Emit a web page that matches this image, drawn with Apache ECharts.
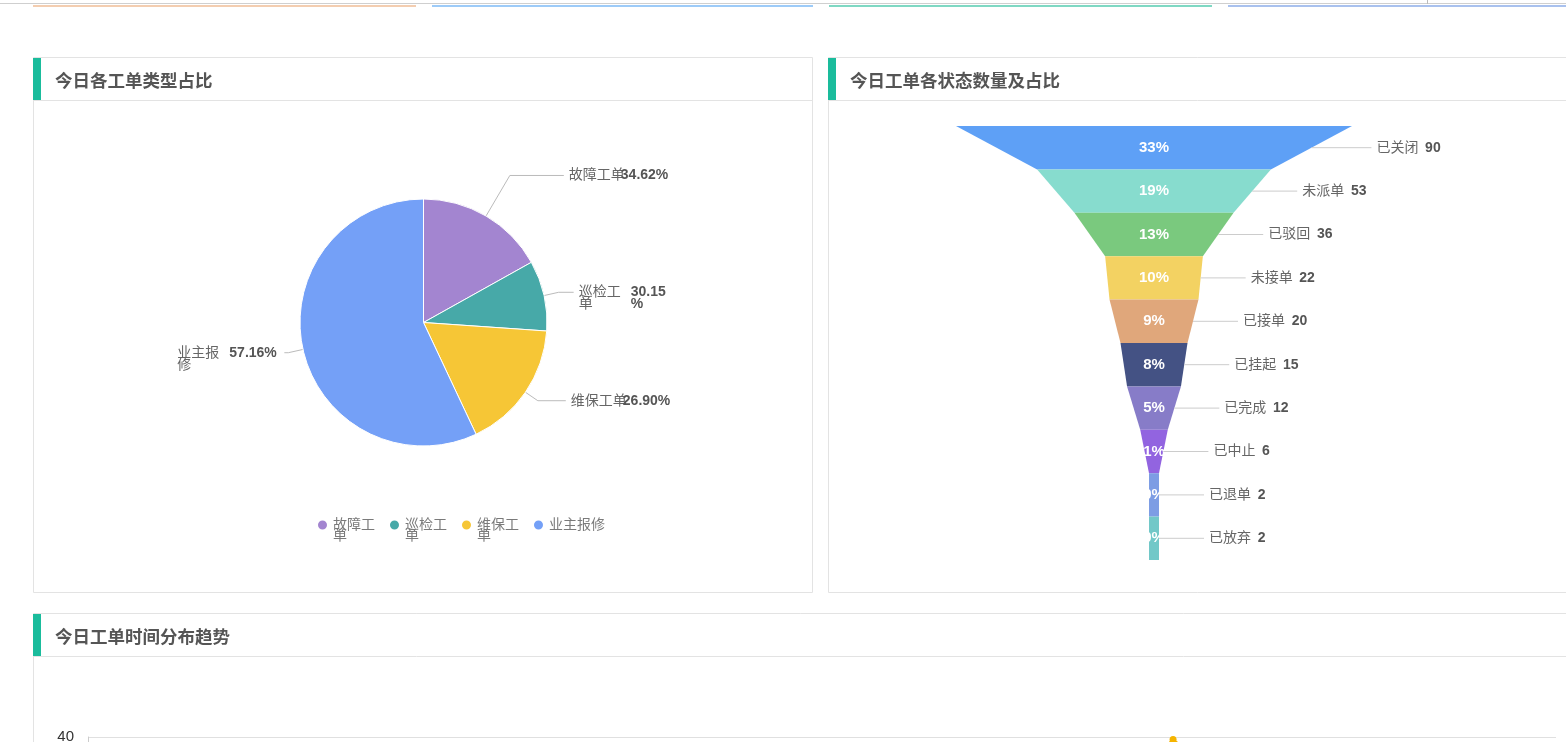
<!DOCTYPE html>
<html><head><meta charset="utf-8">
<script src="https://cdn.jsdelivr.net/npm/echarts@6/dist/echarts.min.js"></script>
<style>html,body{margin:0;padding:0;background:#fff;overflow:hidden}#c{width:1566px;height:742px}</style>
</head><body><div id="c"></div>
<script>
// ---- data ----
const typeNames = ['故障工单', '巡检工单', '维保工单', '业主报修'];
const typeShares = [16.9, 9.2, 16.9, 57.0];
const pieLabelNameLines = [['故障工单'], ['巡检工', '单'], ['维保工单'], ['业主报', '修']];
const pieLabelPctLines = [['34.62%'], ['30.15', '%'], ['26.90%'], ['57.16%']];
const legendLines = [['故障工', '单'], ['巡检工', '单'], ['维保工', '单'], ['业主报修']];

const statusNames = ['已关闭', '未派单', '已驳回', '未接单', '已接单', '已挂起', '已完成', '已中止', '已退单', '已放弃'];
const statusCounts = [90, 53, 36, 22, 20, 15, 12, 6, 2, 2];
const statusPercents = ['33%', '19%', '13%', '10%', '9%', '8%', '5%', '1%', '0%', '0%'];

const hourLabels = ['00:00','01:00','02:00','03:00','04:00','05:00','06:00','07:00','08:00','09:00','10:00','11:00',
  '12:00','13:00','14:00','15:00','16:00','17:00','18:00','19:00','20:00','21:00','22:00','23:00'];
const hourCounts = [2, 1, 0, 0, 1, 3, 6, 12, 18, 22, 25, 20, 15, 17, 21, 24, 28, 39.5, 30, 20, 12, 8, 5, 3];
const panelTitles = ['今日各工单类型占比', '今日工单各状态数量及占比', '今日工单时间分布趋势'];

// ---- styles ----
const typeColors = ['#a385d0', '#47a9a8', '#f6c636', '#74a0f7'];
const statusColors = ['#5ea0f6', '#87dcce', '#7ac97e', '#f3d262', '#e0a77b', '#445284', '#877cc8', '#9264e0', '#7d9de4', '#72c8c8'];
const pieLabelLines = [{length: 47, length2: 54}, {}, {length: 15, length2: 28}, {length: 15, length2: 4}];
const funnelLabelLines = [{length: 60}];
const FONT = '"Liberation Sans", "Noto Sans CJK SC", sans-serif';
const GREEN = '#1abc9c';
const BORDER = '#e3e3e3';

const graphics = [];
graphics.push({type: 'rect', shape: {x: 0, y: 3, width: 1566, height: 1}, style: {fill: '#cfcfcf'}});
graphics.push({type: 'rect', shape: {x: 1427, y: 0, width: 1, height: 4}, style: {fill: '#bbbbbb'}});
[[33, 416, '#f3cdb0'], [432, 813, '#9dcbf8'], [829, 1212, '#7fd8c3'], [1228, 1566, '#a9c1ee']].forEach(b => {
  graphics.push({type: 'rect', shape: {x: b[0], y: 5, width: b[1] - b[0], height: 2}, style: {fill: b[2]}});
});
function panel(x, y, w, h, title) {
  graphics.push({type: 'rect', z: -5, shape: {x: x + 0.5, y: y + 0.5, width: w, height: h}, style: {fill: '#fff', stroke: BORDER, lineWidth: 1}});
  graphics.push({type: 'line', z: -4, shape: {x1: x, y1: y + 43.5, x2: x + w + 1, y2: y + 43.5}, style: {stroke: BORDER, lineWidth: 1}});
  graphics.push({type: 'rect', z: -3, shape: {x: x, y: y + 1, width: 8, height: 42}, style: {fill: GREEN}});
  graphics.push({type: 'text', z: -3, style: {text: title, x: x + 22, y: y + 23, verticalAlign: 'middle',
    font: 'bold 17.5px "Noto Sans CJK SC", sans-serif', fill: '#555'}});
}
panel(33, 57, 779, 535, panelTitles[0]);
panel(828, 57, 800, 535, panelTitles[1]);
panel(33, 613, 1600, 300, panelTitles[2]);

const chart = echarts.init(document.getElementById('c'), null, {renderer: 'canvas'});
const option = {
  animation: false,
  textStyle: {fontFamily: FONT},
  graphic: {elements: graphics},
  legend: {
    left: 316, top: 507, padding: 0, itemGap: 13, itemWidth: 11, itemHeight: 11, icon: 'circle',
    selectedMode: false,
    data: typeNames.map((n, i) => ({name: n, itemStyle: {color: typeColors[i]}})),
    formatter: name => {
      const l = legendLines[typeNames.indexOf(name)];
      return l.length > 1 ? ' \n' + l.join('\n') : l[0];
    },
    textStyle: {color: '#7a7a7a', fontSize: 14, lineHeight: 11, fontFamily: FONT}
  },
  grid: {left: 88, right: 10, top: 737, height: 200, containLabel: false, outerBoundsMode: 'none'},
  xAxis: {type: 'category', data: hourLabels, boundaryGap: false,
    axisLine: {lineStyle: {color: '#ccc'}}, axisLabel: {color: '#333'}},
  yAxis: {type: 'value', min: 0, max: 40, interval: 10,
    axisLine: {show: true, lineStyle: {color: '#ccc'}},
    axisLabel: {color: '#333', fontSize: 15, margin: 14},
    splitLine: {lineStyle: {color: '#e0e0e0'}}},
  series: [
    {
      type: 'pie', center: [423.5, 322.5], radius: 123.5, startAngle: 90, clockwise: true,
      emphasis: {disabled: true},
      itemStyle: {borderColor: '#fff', borderWidth: 1},
      labelLine: {length: 15, length2: 15, lineStyle: {color: '#bbb', width: 1}},
      label: {
        show: true, fontSize: 14, fontFamily: FONT,
        formatter: p => {
          const nl = pieLabelNameLines[p.dataIndex], pl = pieLabelPctLines[p.dataIndex];
          const n = Math.max(nl.length, pl.length), out = [];
          for (let i = 0; i < n; i++) out.push('{n|' + (nl[i] || ' ') + '}{p|' + (pl[i] || ' ') + '}');
          return out.join('\n');
        },
        rich: {
          n: {width: 52, align: 'left', color: '#666', fontSize: 14, lineHeight: 12, fontFamily: FONT},
          p: {width: 50, align: 'left', color: '#555', fontSize: 14, fontWeight: 'bold', lineHeight: 12, fontFamily: FONT}
        }
      },
      data: typeNames.map((n, i) => ({name: n, value: typeShares[i], itemStyle: {color: typeColors[i]},
        labelLine: pieLabelLines[i],
        label: pieLabelNameLines[i].length > 1 ? {padding: [12, 0, 0, 0]} : {}}))
    },
    {
      type: 'funnel', left: 956, top: 126, width: 396, height: 434, min: 2, max: 90, minSize: 10, maxSize: 396,
      sort: 'descending', gap: 0, emphasis: {disabled: true}, legendHoverLink: false,
      itemStyle: {borderWidth: 0},
      label: {show: true, position: 'inside', color: '#fff', fontSize: 15, fontWeight: 'bold', fontFamily: FONT,
        formatter: p => statusPercents[p.dataIndex]},
      labelLine: {show: false},
      data: statusNames.map((n, i) => ({name: n, value: statusCounts[i], itemStyle: {color: statusColors[i]}}))
    },
    {
      type: 'funnel', left: 956, top: 126, width: 396, height: 434, min: 2, max: 90, minSize: 10, maxSize: 396,
      sort: 'descending', gap: 0, emphasis: {disabled: true}, legendHoverLink: false, z: 3,
      itemStyle: {color: 'rgba(0,0,0,0)', borderWidth: 0},
      label: {show: true, position: 'right', fontFamily: FONT,
        formatter: p => '{n|' + statusNames[p.dataIndex] + '}  {v|' + statusCounts[p.dataIndex] + '}',
        rich: {n: {color: '#666', fontSize: 14, fontFamily: FONT}, v: {color: '#555', fontSize: 14, fontWeight: 'bold', fontFamily: FONT}}},
      labelLine: {show: true, length: 45, lineStyle: {color: '#ccc', width: 1}},
      data: statusNames.map((n, i) => ({name: n, value: statusCounts[i], labelLine: funnelLabelLines[i] || {}}))
    },
    {
      type: 'line', data: hourCounts, symbol: 'circle', symbolSize: 7,
      itemStyle: {color: '#f5b400'}, lineStyle: {color: '#f5b400', width: 2}
    }
  ]
};
chart.setOption(option);
</script></body></html>
